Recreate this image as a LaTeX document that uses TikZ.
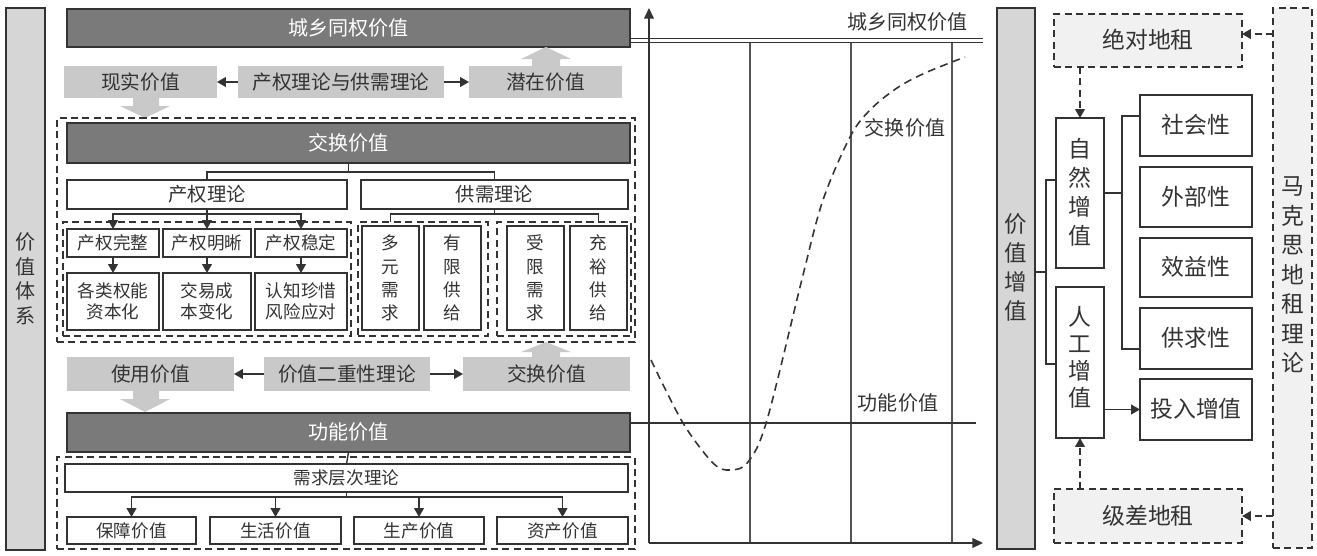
\documentclass[tikz,border=0pt]{standalone}
\usepackage{fontspec}
\setmainfont{Noto Sans CJK SC}
\usetikzlibrary{arrows.meta}
\definecolor{dk}{HTML}{7A7A7A}
\definecolor{ln}{HTML}{333333}
\definecolor{lt}{HTML}{C9C9C9}
\definecolor{barc}{HTML}{D6D6D6}
\definecolor{pale}{HTML}{F1F1F1}
\definecolor{tx}{HTML}{333333}
\definecolor{gridc}{HTML}{555555}
\begin{document}
\begin{tikzpicture}[x=0.02cm,y=-0.02cm,
 every node/.style={inner sep=0pt, outer sep=0pt, text=tx, align=center},
 pos/.style n args={4}{at={({(#1+#3)/2},{(#2+#4)/2})}, minimum width={(#3-#1)*0.02cm}, minimum height={(#4-#2)*0.02cm}},
 darkbox/.style={draw=ln, line width=0.9pt, fill=dk, text=white, font=\fontsize{11.4}{13}\selectfont, text height=9.5pt, text depth=1pt},
 litebox/.style={fill=lt, font=\fontsize{11.2}{13}\selectfont, text height=9.3pt, text depth=1pt},
 wbox/.style={draw=ln, line width=0.9pt, fill=white, font=\fontsize{10}{12.5}\selectfont, text height=8.3pt, text depth=0.9pt},
 wbox2/.style={draw=ln, line width=0.9pt, fill=white, font=\fontsize{10}{12.5}\selectfont, text height=20.8pt, text depth=0.9pt},
 wboxl/.style={draw=ln, line width=0.9pt, fill=white, font=\fontsize{11}{13}\selectfont, text height=9.1pt, text depth=1pt},
 vbox/.style={draw=ln, line width=0.9pt, fill=white, font=\fontsize{10}{13.1}\selectfont, text height=47.6pt, text depth=0.9pt},
 rbox/.style={draw=ln, line width=0.8pt, fill=white, font=\fontsize{13}{15}\selectfont, text height=10.8pt, text depth=1.2pt},
 rvbox/.style={draw=ln, line width=0.8pt, fill=white, font=\fontsize{13}{16.5}\selectfont, text height=60.3pt, text depth=1.2pt},
 grp/.style={draw=ln, line width=0.8pt, dash pattern=on 4pt off 2.5pt},
 dbox/.style={draw=ln, line width=0.8pt, dash pattern=on 4pt off 2.5pt, fill=pale},
 arr/.style={draw=ln, line width=0.8pt, -{Triangle[length=5pt,width=5.5pt]}},
 darr/.style={draw=ln, line width=0.8pt, dash pattern=on 4pt off 2.5pt, -{Triangle[length=5pt,width=5.5pt]}},
 conn/.style={draw=ln, line width=0.8pt},
 axisline/.style={draw=ln, line width=0.8pt, -{Triangle[length=6pt,width=5.5pt]}},
 gridline/.style={draw=gridc, line width=0.6pt},
 curve/.style={draw=ln, line width=0.9pt, dash pattern=on 4.5pt off 3pt},
 lbl/.style={font=\fontsize{11.4}{13}\selectfont, text height=9.5pt, text depth=1pt}
]
\useasboundingbox (0,0) rectangle (1317,555);

% ---------- left bar ----------
\node[draw=ln, line width=0.9pt, fill=barc, font=\fontsize{11.4}{14.2}\selectfont, text height=52.1pt, text depth=1pt, pos={6}{8}{45}{550}] (lbar) {价\\值\\体\\系};

% ---------- upper part ----------
\node[darkbox, pos={67}{9}{630}{47}] (csv) {城乡同权价值};
\node[litebox, pos={64}{66}{217}{98}] (xs) {现实价值};
\node[litebox, pos={238}{66}{444}{98}] (lun1) {产权理论与供需理论};
\node[litebox, pos={469}{66}{622}{98}] (qz) {潜在价值};
\draw[arr] (lun1.west) -- (xs.east);
\draw[arr] (lun1.east) -- (qz.west);
\fill[lt] (133,98) -- (159,98) -- (159,106) -- (170,106) -- (145,118) -- (120,106) -- (133,106) -- cycle;
\fill[lt] (532,66) -- (560,66) -- (560,59) -- (571,59) -- (546,47) -- (521,59) -- (532,59) -- cycle;

\node[grp, pos={57}{118}{635}{342}] (g1) {};
\node[darkbox, pos={67}{123}{630}{163}] (exch) {交换价值};
\node[wboxl, pos={67}{180}{347}{209}] (cq) {产权理论};
\node[wboxl, pos={361}{180}{628}{209}] (gx) {供需理论};
\draw[conn] (exch.south) -- ++(0,9);
\draw[conn] (cq.north) -- ++(0,-8) -| (gx.north);

\node[grp, pos={63}{222}{351}{336}] (g2) {};
\node[wbox, pos={67}{229}{159}{257}] (cq1) {产权完整};
\node[wbox, pos={163}{229}{251}{257}] (cq2) {产权明晰};
\node[wbox, pos={255}{229}{347}{257}] (cq3) {产权稳定};
\node[wbox2, pos={67}{273}{159}{330}] (cr1) {各类权能\\资本化};
\node[wbox2, pos={163}{273}{251}{330}] (cr2) {交易成\\本变化};
\node[wbox2, pos={255}{273}{347}{330}] (cr3) {认知珍惜\\风险应对};
\draw[arr] (cq.south) -- (cq2.north);
\draw[arr] (cq.south) ++(0,5) -| (cq1.north);
\draw[arr] (cq.south) ++(0,5) -| (cq3.north);
\draw[arr] (cq1.south) -- (cr1.north);
\draw[arr] (cq2.south) -- (cr2.north);
\draw[arr] (cq3.south) -- (cr3.north);

\node[grp, pos={358}{222}{488}{336}] (g3) {};
\node[grp, pos={497}{222}{631}{336}] (g4) {};
\node[vbox, pos={362}{226}{419}{330}] (d1) {多\\元\\需\\求};
\node[vbox, pos={424}{226}{481}{330}] (d2) {有\\限\\供\\给};
\node[vbox, pos={507}{226}{564}{330}] (d3) {受\\限\\需\\求};
\node[vbox, pos={570}{226}{627}{330}] (d4) {充\\裕\\供\\给};
\draw[conn] (gx.south) -- ++(0,5) -| (d1.north |- g3.north);
\draw[conn] (gx.south) ++(0,5) -| (d4.north |- g4.north);

% ---------- lower part ----------
\node[litebox, pos={67}{357}{234}{391}] (sy) {使用价值};
\node[litebox, pos={264}{357}{430}{391}] (lun2) {价值二重性理论};
\node[litebox, pos={463}{357}{630}{391}] (jh) {交换价值};
\draw[arr] (lun2.west) -- (sy.east);
\draw[arr] (lun2.east) -- (jh.west);
\fill[lt] (133,391) -- (159,391) -- (159,399) -- (170,399) -- (145,412) -- (120,399) -- (133,399) -- cycle;
\fill[lt] (532,357) -- (560,357) -- (560,352) -- (571,352) -- (546,342) -- (521,352) -- (532,352) -- cycle;

\node[darkbox, pos={67}{413}{630}{452}] (gn) {功能价值};
\node[grp, pos={57}{457}{635}{549}] (g5) {};
\node[wbox, pos={65}{464}{628}{492}] (xq) {需求层次理论};
\draw[conn] (gn.south) -- (xq.north);
\node[wbox, pos={67}{517}{196}{544}] (b1) {保障价值};
\node[wbox, pos={210}{517}{341}{544}] (b2) {生活价值};
\node[wbox, pos={354}{517}{484}{544}] (b3) {生产价值};
\node[wbox, pos={497}{517}{628}{544}] (b4) {资产价值};
\draw[conn] (xq.south) -- ++(0,5);
\draw[arr] (xq.south) ++(0,5) -| (b1.north);
\draw[arr] (xq.south) ++(0,5) -| (b2.north);
\draw[arr] (xq.south) ++(0,5) -| (b3.north);
\draw[arr] (xq.south) ++(0,5) -| (b4.north);

% ---------- chart ----------
\coordinate (o) at (649,543);
\coordinate (ytop) at (649,8);
\coordinate (xend) at (983,543);
\foreach \gx in {750,851,952} {\draw[gridline] (\gx,43) -- (\gx,543);}
\coordinate (dl1) at (983,38.5);
\coordinate (dl2) at (983,42.7);
\draw[conn, line width=0.7pt] (csv.east |- dl1) -- (dl1);
\draw[conn, line width=0.7pt] (csv.east |- dl2) -- (dl2);
\coordinate (fe) at (976,423);
\draw[conn, line width=0.7pt] (gn.east |- fe) -- (fe);
\draw[axisline] (o) -- (ytop);
\draw[axisline] (o) -- (xend);
\draw[curve] plot[smooth, tension=0.55] coordinates {(651,360) (683,423) (713,463) (730,470) (748,462) (767,420) (803,275) (823,200) (850,137) (870,110) (897,88) (925,73) (965,57)};
\node[lbl, anchor=east] (lcsv) at (968,22) {城乡同权价值};
\node[lbl] (ljh) at (905,128) {交换价值};
\node[lbl] (lgn) at (898,403) {功能价值};

% ---------- right panel ----------
\node[draw=ln, line width=0.9pt, fill=barc, font=\fontsize{12.8}{16.5}\selectfont, text height=60.1pt, text depth=13.5pt, pos={997}{8}{1035}{549}] (jz) {价\\值\\增\\值};
\node[dbox, font=\fontsize{13}{15}\selectfont, text height=10.8pt, text depth=1.2pt, pos={1054}{14}{1242}{67}] (jd) {绝对地租};
\node[dbox, font=\fontsize{13}{15}\selectfont, text height=10.8pt, text depth=1.2pt, pos={1054}{489}{1242}{543}] (jc) {级差地租};
\node[dbox, font=\fontsize{13}{16.8}\selectfont, text height=111.6pt, text depth=5pt, pos={1273}{8}{1312}{548}] (mk) {马\\克\\思\\地\\租\\理\\论};
\node[rvbox, pos={1056}{118}{1104}{268}] (zr) {自\\然\\增\\值};
\node[rvbox, font=\fontsize{13}{15.4}\selectfont, text height=57pt, text depth=6.8pt, pos={1056}{287}{1104}{438}] (rg) {人\\工\\增\\值};
\node[rbox, pos={1140}{95}{1252}{156}] (sh) {社会性};
\node[rbox, pos={1140}{167}{1252}{227}] (wb) {外部性};
\node[rbox, pos={1140}{238}{1252}{297}] (xy) {效益性};
\node[rbox, pos={1140}{308}{1252}{369}] (gq) {供求性};
\node[rbox, pos={1140}{379}{1252}{440}] (tr) {投入增值};

\coordinate (k0) at (1046,272);
\coordinate (k1) at (1046,180);
\coordinate (k2) at (1046,364);
\draw[conn] (jz.east |- k0) -- (k0);
\draw[conn] (zr.west |- k1) -- (k1) -- (k2) -- (rg.west |- k2);
\coordinate (k3) at (1122,116);
\coordinate (k4) at (1122,349);
\draw[conn] (zr.east) -- (zr.east -| k3);
\draw[conn] (sh.west |- k3) -- (k3) -- (k4) -- (gq.west |- k4);
\draw[arr] (rg.east |- tr.west) -- (tr.west);
\draw[darr] (jd.south -| zr.north) -- (zr.north);
\draw[darr] (jc.north -| rg.south) -- (rg.south);
\coordinate (m1) at (1273,34);
\draw[darr] (mk.west |- m1) -- (jd.east |- m1);
\draw[darr] (mk.west |- jc.east) -- (jc.east);
\end{tikzpicture}
\end{document}
